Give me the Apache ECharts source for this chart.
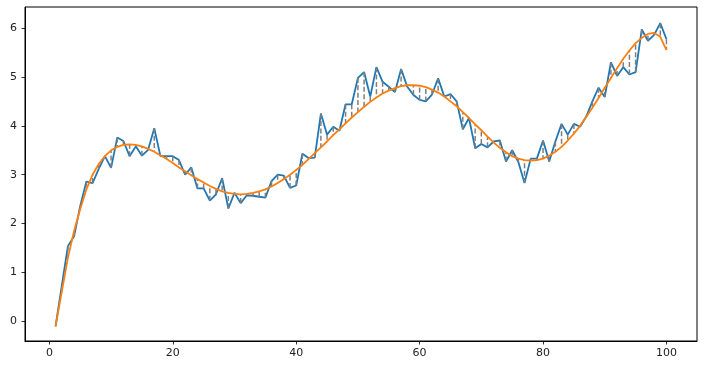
<!DOCTYPE html>
<html>
<head>
<meta charset="utf-8">
<script src="https://cdn.jsdelivr.net/npm/echarts@6/dist/echarts.min.js"></script>
<style>
html,body{margin:0;padding:0;background:#fff;}
#chart{width:705px;height:371px;}
</style>
</head>
<body>
<div id="chart"></div>
<script>
var xValues = [1,2,3,4,5,6,7,8,9,10,11,12,13,14,15,16,17,18,19,20,
  21,22,23,24,25,26,27,28,29,30,31,32,33,34,35,36,37,38,39,40,
  41,42,43,44,45,46,47,48,49,50,51,52,53,54,55,56,57,58,59,60,
  61,62,63,64,65,66,67,68,69,70,71,72,73,74,75,76,77,78,79,80,
  81,82,83,84,85,86,87,88,89,90,91,92,93,94,95,96,97,98,99,100];

var observed = [-0.10,0.72,1.54,1.74,2.36,2.86,2.83,3.12,3.38,3.14,
  3.76,3.69,3.38,3.58,3.39,3.51,3.95,3.38,3.38,3.38,
  3.30,3.00,3.15,2.72,2.72,2.47,2.60,2.93,2.31,2.63,
  2.42,2.58,2.57,2.55,2.53,2.87,3.00,2.98,2.73,2.78,
  3.43,3.34,3.35,4.25,3.82,3.98,3.90,4.44,4.44,4.98,
  5.10,4.60,5.20,4.90,4.80,4.69,5.16,4.80,4.63,4.53,
  4.50,4.64,4.97,4.60,4.65,4.50,3.93,4.16,3.54,3.63,
  3.56,3.68,3.70,3.27,3.50,3.26,2.83,3.33,3.33,3.70,
  3.27,3.68,4.04,3.82,4.04,3.98,4.19,4.50,4.78,4.59,
  5.30,5.02,5.20,5.05,5.10,5.97,5.74,5.86,6.10,5.77];

var fitted = [-0.10,0.60,1.30,1.85,2.30,2.70,3.00,3.22,3.38,3.50,
  3.57,3.61,3.62,3.61,3.58,3.53,3.47,3.40,3.32,3.24,
  3.15,3.07,2.99,2.91,2.84,2.77,2.71,2.66,2.63,2.61,
  2.60,2.61,2.63,2.66,2.70,2.76,2.83,2.91,3.00,3.10,
  3.20,3.32,3.44,3.56,3.68,3.81,3.93,4.05,4.17,4.28,
  4.39,4.49,4.58,4.66,4.72,4.77,4.81,4.83,4.83,4.82,
  4.79,4.74,4.68,4.60,4.50,4.40,4.28,4.16,4.03,3.91,
  3.78,3.66,3.55,3.46,3.38,3.33,3.30,3.29,3.30,3.33,
  3.39,3.47,3.57,3.70,3.84,4.00,4.18,4.37,4.57,4.78,
  4.98,5.18,5.37,5.54,5.69,5.80,5.88,5.90,5.82,5.55];

var xTicks = [0,20,40,60,80,100];
var yTicks = [0,1,2,3,4,5,6];

var obsData = xValues.map(function(x,i){return [x, observed[i]];});
var fitData = xValues.map(function(x,i){return [x, fitted[i]];});
var resData = xValues.map(function(x,i){return [x, observed[i], fitted[i]];});

var chart = echarts.init(document.getElementById('chart'), null, {renderer:'canvas'});
var axisFont = {fontFamily:'DejaVu Sans', fontSize:11, color:'#222'};
chart.setOption({
  animation:false,
  backgroundColor:'#fff',
  grid:{left:25, right:8, top:7, bottom:30, show:true, borderColor:'#000', borderWidth:1, containLabel:false},
  xAxis:{
    type:'value', min:-3.95, max:104.95,
    axisLine:{show:true, onZero:false, lineStyle:{color:'#000', width:1}},
    axisTick:{show:true, length:3.5, customValues:xTicks, lineStyle:{color:'#000', width:0.8}},
    axisLabel:Object.assign({customValues:xTicks, margin:7}, axisFont),
    splitLine:{show:false}
  },
  yAxis:{
    type:'value', min:-0.4, max:6.43,
    axisLine:{show:true, onZero:false, lineStyle:{color:'#000', width:1}},
    axisTick:{show:true, length:3.5, customValues:yTicks, lineStyle:{color:'#000', width:0.8}},
    axisLabel:Object.assign({customValues:yTicks, margin:8}, axisFont),
    splitLine:{show:false}
  },
  series:[
    {
      type:'line', data:obsData, showSymbol:false, symbol:'none',
      lineStyle:{color:'#1f77b4', width:1.8}, z:2
    },
    {
      type:'custom', data:resData, z:3,
      renderItem:function(params, api){
        var p1 = api.coord([api.value(0), api.value(1)]);
        var p2 = api.coord([api.value(0), api.value(2)]);
        return {type:'line', shape:{x1:p1[0], y1:p1[1], x2:p2[0], y2:p2[1]},
          style:{stroke:'#7f7f7f', lineWidth:1.5, lineDash:[5,2.4]}};
      }
    },
    {
      type:'line', data:fitData, showSymbol:false, symbol:'none', smooth:false,
      lineStyle:{color:'#ff7f0e', width:1.8}, z:4
    }
  ]
});
</script>
</body>
</html>
